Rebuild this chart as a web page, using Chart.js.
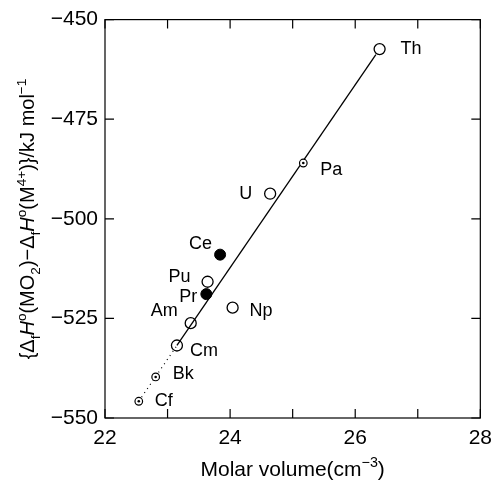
<!DOCTYPE html>
<html>
<head>
<meta charset="utf-8">
<script src="https://cdn.jsdelivr.net/npm/chart.js@4.4.1/dist/chart.umd.min.js"></script>
<style>
  html, body { margin: 0; padding: 0; background: #fff; }
  #wrap { width: 500px; height: 482px; }
</style>
</head>
<body>
<div id="wrap"><canvas id="molarChart" width="500" height="482"></canvas></div>
<script>
// ---- datos ----
const elementos = ['Th', 'Pa', 'U', 'Ce', 'Pu', 'Pr', 'Np', 'Am', 'Cm', 'Bk', 'Cf'];
const volumenMolar = [26.39, 25.17, 24.64, 23.84, 23.64, 23.62, 24.04, 23.37, 23.15, 22.81, 22.54];
const entalpiaDif = [-457.4, -486.0, -493.7, -509.0, -515.8, -518.9, -522.3, -526.2, -531.8, -539.7, -545.8];
const tipoMarcador = ['open', 'dot', 'open', 'filled', 'open', 'filled', 'open', 'open', 'open', 'dot', 'dot'];

// recta de ajuste: tramo continuo (Cm -> Th) y tramo punteado (Cf -> Cm)
const ajusteX = [23.15, 26.33];
const ajusteY = [-531.8, -458.8];
const extrapX = [22.54, 23.15];
const extrapY = [-545.8, -531.8];

const ticksX = [22, 24, 26, 28];
const ticksY = [-550, -525, -500, -475, -450];

// desplazamiento de las etiquetas (px) respecto al punto
const posEtiquetas = {
  Th: { dx: 21, dy: 0, align: 'left' },
  Pa: { dx: 17, dy: 7, align: 'left' },
  U:  { dx: -18, dy: 0, align: 'right' },
  Ce: { dx: -8, dy: -11, align: 'right' },
  Pu: { dx: -17, dy: -5, align: 'right' },
  Pr: { dx: -9, dy: 3, align: 'right' },
  Np: { dx: 17, dy: 3, align: 'left' },
  Am: { dx: -13, dy: -12, align: 'right' },
  Cm: { dx: 13, dy: 6, align: 'left' },
  Bk: { dx: 17, dy: -3, align: 'left' },
  Cf: { dx: 16, dy: 0, align: 'left' }
};

const FUENTE = '"Liberation Sans", Arial, Helvetica, sans-serif';

function puntosDe(tipo) {
  const pts = [];
  elementos.forEach((el, i) => {
    if (tipoMarcador[i] === tipo) pts.push({ x: volumenMolar[i], y: entalpiaDif[i] });
  });
  return pts;
}

function pares(xs, ys) {
  return xs.map((x, i) => ({ x: x, y: ys[i] }));
}

// texto con subindices / superindices
function dibujarTextoRico(ctx, segs, size) {
  let ancho = 0;
  segs.forEach(s => {
    const sz = s.pos ? size * 0.68 : size;
    ctx.font = (s.italic ? 'italic ' : '') + sz + 'px ' + FUENTE;
    s._w = ctx.measureText(s.t).width;
    s._sz = sz;
    ancho += s._w;
  });
  let x = -ancho / 2;
  segs.forEach(s => {
    ctx.font = (s.italic ? 'italic ' : '') + s._sz + 'px ' + FUENTE;
    let dy = 0;
    if (s.pos === 'sub') dy = size * 0.28;
    if (s.pos === 'sup') dy = -size * 0.42;
    ctx.fillText(s.t, x, dy);
    x += s._w;
  });
}

const tituloY = [
  { t: '{\u0394' }, { t: 'f', pos: 'sub' }, { t: 'H', italic: true }, { t: 'o', pos: 'sup' },
  { t: '(MO' }, { t: '2', pos: 'sub' }, { t: ')\u2212\u0394' }, { t: 'f', pos: 'sub' },
  { t: 'H', italic: true }, { t: 'o', pos: 'sup' }, { t: '(M' }, { t: '4+', pos: 'sup' },
  { t: ')}/kJ mol' }, { t: '\u22121', pos: 'sup' }
];
const tituloX = [
  { t: 'Molar volume(cm' }, { t: '\u22123', pos: 'sup' }, { t: ')' }
];

const pluginMarco = {
  id: 'marco',
  afterDraw(chart) {
    const ctx = chart.ctx;
    const a = chart.chartArea;
    const sx = chart.scales.x;
    const sy = chart.scales.y;
    ctx.save();
    ctx.strokeStyle = '#000';
    ctx.lineWidth = 1.2;
    ctx.strokeRect(a.left, a.top, a.right - a.left, a.bottom - a.top);
    // marcas hacia dentro en los cuatro lados
    ctx.beginPath();
    sx.ticks.forEach(t => {
      const px = sx.getPixelForValue(t.value);
      ctx.moveTo(px, a.bottom); ctx.lineTo(px, a.bottom - 9);
      ctx.moveTo(px, a.top); ctx.lineTo(px, a.top + 9);
    });
    sy.ticks.forEach(t => {
      const py = sy.getPixelForValue(t.value);
      ctx.moveTo(a.left, py); ctx.lineTo(a.left + 9, py);
      ctx.moveTo(a.right, py); ctx.lineTo(a.right - 9, py);
    });
    ctx.stroke();

    // etiquetas de los elementos
    ctx.fillStyle = '#000';
    ctx.font = '18px ' + FUENTE;
    ctx.textBaseline = 'middle';
    elementos.forEach((el, i) => {
      const p = posEtiquetas[el];
      ctx.textAlign = p.align;
      ctx.fillText(el, sx.getPixelForValue(volumenMolar[i]) + p.dx, sy.getPixelForValue(entalpiaDif[i]) + p.dy);
    });

    // titulos de los ejes
    ctx.textAlign = 'left';
    ctx.textBaseline = 'alphabetic';
    ctx.save();
    ctx.translate(34, 219);
    ctx.rotate(-Math.PI / 2);
    dibujarTextoRico(ctx, tituloY, 20);
    ctx.restore();
    ctx.save();
    ctx.translate((a.left + a.right) / 2, 476);
    dibujarTextoRico(ctx, tituloX, 21);
    ctx.restore();
    ctx.restore();
  }
};

const ctx = document.getElementById('molarChart').getContext('2d');
new Chart(ctx, {
  type: 'scatter',
  data: {
    datasets: [
      {
        data: pares(ajusteX, ajusteY), showLine: true, borderColor: '#000', borderWidth: 1.3,
        pointRadius: 0, order: 5
      },
      {
        data: pares(extrapX, extrapY), showLine: true, borderColor: '#000', borderWidth: 1.2,
        borderDash: [1, 4], pointRadius: 0, order: 5
      },
      {
        data: puntosDe('open'), pointRadius: 5.5, borderWidth: 1.3, borderColor: '#000',
        backgroundColor: 'rgba(255,255,255,0)', order: 1
      },
      {
        data: puntosDe('filled'), pointRadius: 5.5, borderWidth: 1, borderColor: '#000',
        backgroundColor: '#000', order: 1
      },
      {
        data: puntosDe('dot'), pointRadius: 3.8, borderWidth: 1.2, borderColor: '#000',
        backgroundColor: '#fff', order: 2
      },
      {
        data: puntosDe('dot'), pointRadius: 1.3, borderWidth: 0, borderColor: '#000',
        backgroundColor: '#000', order: 0
      }
    ]
  },
  options: {
    responsive: false,
    animation: false,
    layout: { padding: { left: 0, right: 15, top: 17, bottom: 0 } },
    plugins: { legend: { display: false }, tooltip: { enabled: false } },
    scales: {
      x: {
        type: 'linear', min: 22, max: 28,
        afterFit: s => { s.height = 64; },
        afterBuildTicks: s => { s.ticks = [22, 23, 24, 25, 26, 27, 28].map(v => ({ value: v })); },
        ticks: {
          color: '#000', font: { size: 21, family: FUENTE }, padding: 8, maxRotation: 0,
          callback: v => ticksX.includes(v) ? String(v) : ''
        },
        grid: { drawOnChartArea: false, drawTicks: false },
        border: { display: false }
      },
      y: {
        type: 'linear', min: -550, max: -450,
        afterFit: s => { s.width = 105; },
        afterBuildTicks: s => { s.ticks = ticksY.map(v => ({ value: v })); },
        ticks: {
          color: '#000', font: { size: 21, family: FUENTE }, padding: 7,
          callback: v => String(v).replace('-', '\u2212')
        },
        grid: { drawOnChartArea: false, drawTicks: false },
        border: { display: false }
      }
    }
  },
  plugins: [pluginMarco]
});
</script>
</body>
</html>
